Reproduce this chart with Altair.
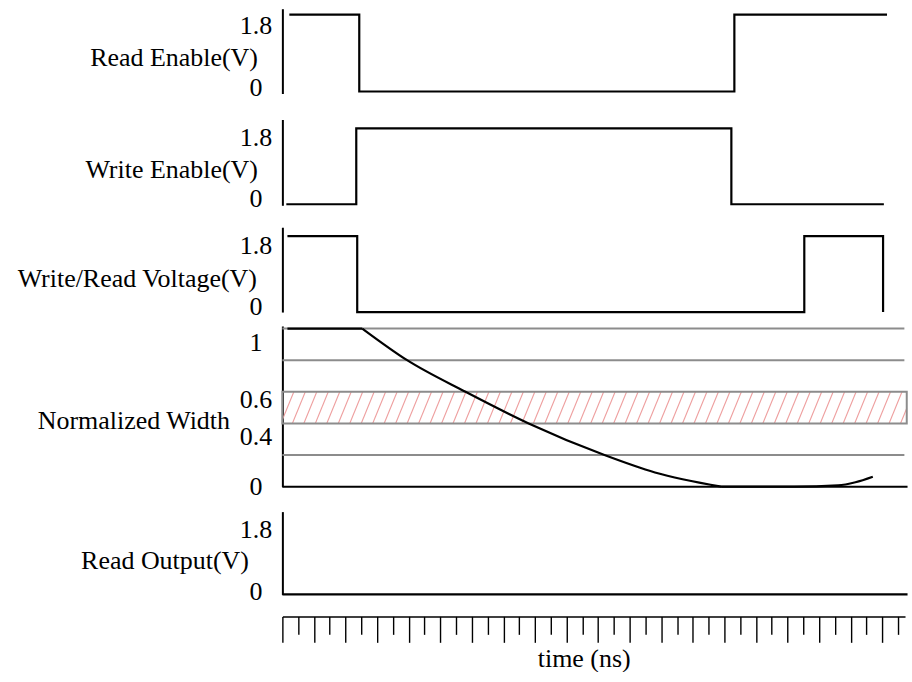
import altair as alt
import pandas as pd
import numpy as np

FONT = "Liberation Serif"
FS = 26

# ---- data (time in ns) ----
read_en_t = [0.44, 4.87, 28.63, 38.3]
read_en_v = [1.8, 0.0, 1.8, 1.8]
write_en_t = [0.25, 4.68, 28.44, 38.1]
write_en_v = [0.0, 1.8, 0.0, 0.0]
wr_volt_t = [0.32, 4.74, 33.06, 38.05]
wr_volt_v = [1.8, 0.0, 1.8, 0.0]
read_out_t = [0.0, 39.6]
read_out_v = [0.0, 0.0]
# normalized width: plateau, decay, floor + slight rise
plateau_t = [0.32, 5.06]
plateau_v = [1.0, 1.0]
decay_t = [5.06, 7.9, 11.6, 15.6, 20.4, 23.6, 27.8]
decay_v = [1.0, 0.8, 0.6, 0.4, 0.2, 0.09, 0.0]
rise_t = [27.8, 32.43, 35.2, 36.3, 37.4]
rise_v = [0.0, 0.0, 0.008, 0.028, 0.063]
grid_levels = [0.2, 0.8, 1.0]
band_low, band_high = 0.4, 0.6
time_ticks = list(range(40))
t_max = 39.44
grid_end = 39.4
band_end = 39.55
base_end = 39.6

W = 624
PX_PER_NS = W / t_max

xs = alt.Scale(domain=[0, t_max], nice=False, zero=False)
LABEL_EXPR = "format(datum.value, '.1~f')"


def yaxis(title, values, offsets_cond, default_off, tx, ty):
    return alt.Axis(
        values=values, labelExpr=LABEL_EXPR, grid=False, ticks=False, tickSize=0,
        domainColor="black", domainWidth=2,
        labelFont=FONT, labelFontSize=FS, labelColor="black",
        labelAlign="center", labelPadding=27, labelBaseline="alphabetic",
        labelOffset={"condition": offsets_cond, "value": default_off},
        title=title, titleFont=FONT, titleFontSize=FS, titleFontWeight="normal",
        titleColor="black", titleAngle=0, titleAlign="right",
        titleBaseline="alphabetic", titleX=tx, titleY=ty,
    )


def step_panel(t, v, title, domain, height, tx, ty, top_off=18, bot_off=3, xaxis=None):
    df = pd.DataFrame({"t": t, "v": v})
    ax = yaxis(title, [0, 1.8], {"test": "datum.value > 1", "value": top_off}, bot_off, tx, ty)
    return alt.Chart(df).mark_line(color="black", strokeWidth=2.2, interpolate="step-after").encode(
        x=alt.X("t:Q", scale=xs, axis=xaxis),
        y=alt.Y("v:Q", scale=alt.Scale(domain=domain, nice=False, zero=False), axis=ax),
    ).properties(width=W, height=height)


p1 = step_panel(read_en_t, read_en_v, "Read Enable(V)", [-0.047, 1.94], 85, -25, 57, 19, 3.5)
p2 = step_panel(write_en_t, write_en_v, "Write Enable(V)", [-0.024, 2.013], 86, -25, 58, 17, 2)
p3 = step_panel(wr_volt_t, wr_volt_v, "Write/Read Voltage(V)", [0, 2.013], 85, -26, 59, 17, 2.5)

time_axis = alt.Axis(
    orient="bottom", offset=22, values=time_ticks, labels=False, grid=False,
    ticks=True, tickColor="black", tickWidth=1.4,
    tickSize={"condition": {"test": "datum.value % 2 === 0", "value": 26}, "value": 18},
    domainColor="black", domainWidth=1.5,
    title="time (ns)", titleFont=FONT, titleFontSize=FS, titleFontWeight="normal",
    titleColor="black", titleX=302, titleY=50, titleBaseline="alphabetic", titleAlign="center",
)
p5 = step_panel(read_out_t, read_out_v, "Read Output(V)", [0, 2.0], 83, -34, 57, 17.7, 4.7,
                xaxis=time_axis)

# ---- Normalized width panel ----
ys4 = alt.Scale(domain=[0, 1.016], nice=False, zero=False)
ax4 = yaxis("Normalized Width", [0, 0.4, 0.6, 1.0],
            [{"test": "datum.value == 1", "value": 21.5},
             {"test": "datum.value == 0.6", "value": 15.5},
             {"test": "datum.value == 0.4", "value": 20.7}], 7.7, -53, 103)

# hatch pattern inside the band (decoration derived from band bounds)
spacing = 11.5 / PX_PER_NS
run = 13.0 / PX_PER_NS
hx0, hx1, hy0, hy1 = [], [], [], []
for b in np.arange(-run, band_end, spacing):
    xa, ya = b, band_low
    xb, yb = b + run, band_high
    if xa < 0:
        ya = band_low + (band_high - band_low) * (0 - b) / run
        xa = 0.0
    if xb > band_end:
        yb = band_low + (band_high - band_low) * (band_end - b) / run
        xb = band_end
    hx0.append(xa); hx1.append(xb); hy0.append(ya); hy1.append(yb)
hatch_df = pd.DataFrame({"x0": hx0, "x1": hx1, "y0": hy0, "y1": hy1})

hatch = alt.Chart(hatch_df).mark_rule(color="#ee9f9f", strokeWidth=1.1).encode(
    x=alt.X("x0:Q", scale=xs, axis=None), x2="x1:Q",
    y=alt.Y("y0:Q", scale=ys4, axis=ax4), y2="y1:Q",
)
grid_df = pd.DataFrame({"y": grid_levels, "x0": [0] * len(grid_levels), "x1": [grid_end] * len(grid_levels)})
grid = alt.Chart(grid_df).mark_rule(color="#8c8c8c", strokeWidth=2).encode(
    x=alt.X("x0:Q", scale=xs, axis=None), x2="x1:Q",
    y=alt.Y("y:Q", scale=ys4, axis=ax4),
)
band_df = pd.DataFrame({"x0": [0.0], "x1": [band_end], "lo": [band_low], "hi": [band_high]})
band = alt.Chart(band_df).mark_rect(fill="transparent", stroke="#8c8c8c", strokeWidth=2).encode(
    x=alt.X("x0:Q", scale=xs, axis=None), x2="x1:Q",
    y=alt.Y("lo:Q", scale=ys4, axis=ax4), y2="hi:Q",
)
base_df = pd.DataFrame({"y": [0.0], "x0": [0.0], "x1": [base_end]})
base = alt.Chart(base_df).mark_rule(color="black", strokeWidth=2).encode(
    x=alt.X("x0:Q", scale=xs, axis=None), x2="x1:Q",
    y=alt.Y("y:Q", scale=ys4, axis=ax4),
)
curve_df = pd.concat([
    pd.DataFrame({"t": plateau_t, "v": plateau_v, "seg": "plateau"}),
    pd.DataFrame({"t": decay_t, "v": decay_v, "seg": "decay"}),
    pd.DataFrame({"t": rise_t, "v": rise_v, "seg": "rise"}),
])
curve = alt.Chart(curve_df).mark_line(color="black", strokeWidth=2.2, interpolate="monotone").encode(
    x=alt.X("t:Q", scale=xs, axis=None),
    y=alt.Y("v:Q", scale=ys4, axis=ax4),
    detail="seg:N",
)
p4 = alt.layer(hatch, grid, band, base, curve).properties(width=W, height=161)


def spacer(h):
    return alt.Chart(pd.DataFrame({"s": [0]})).mark_point(opacity=0).encode(
        x=alt.X("s:Q", axis=None), y=alt.Y("s:Q", axis=None)
    ).properties(width=W, height=h)


chart = alt.vconcat(
    p1, spacer(26), p2, spacer(22), p3, spacer(14), p4, spacer(25), p5,
    spacing=0, bounds="flush",
).resolve_scale(y="independent").properties(
    padding={"left": 16, "top": 8, "right": 0, "bottom": 0},
    background="white",
).configure_view(strokeWidth=0)

chart.save("out.html", embed_options={"renderer": "svg", "actions": False})
